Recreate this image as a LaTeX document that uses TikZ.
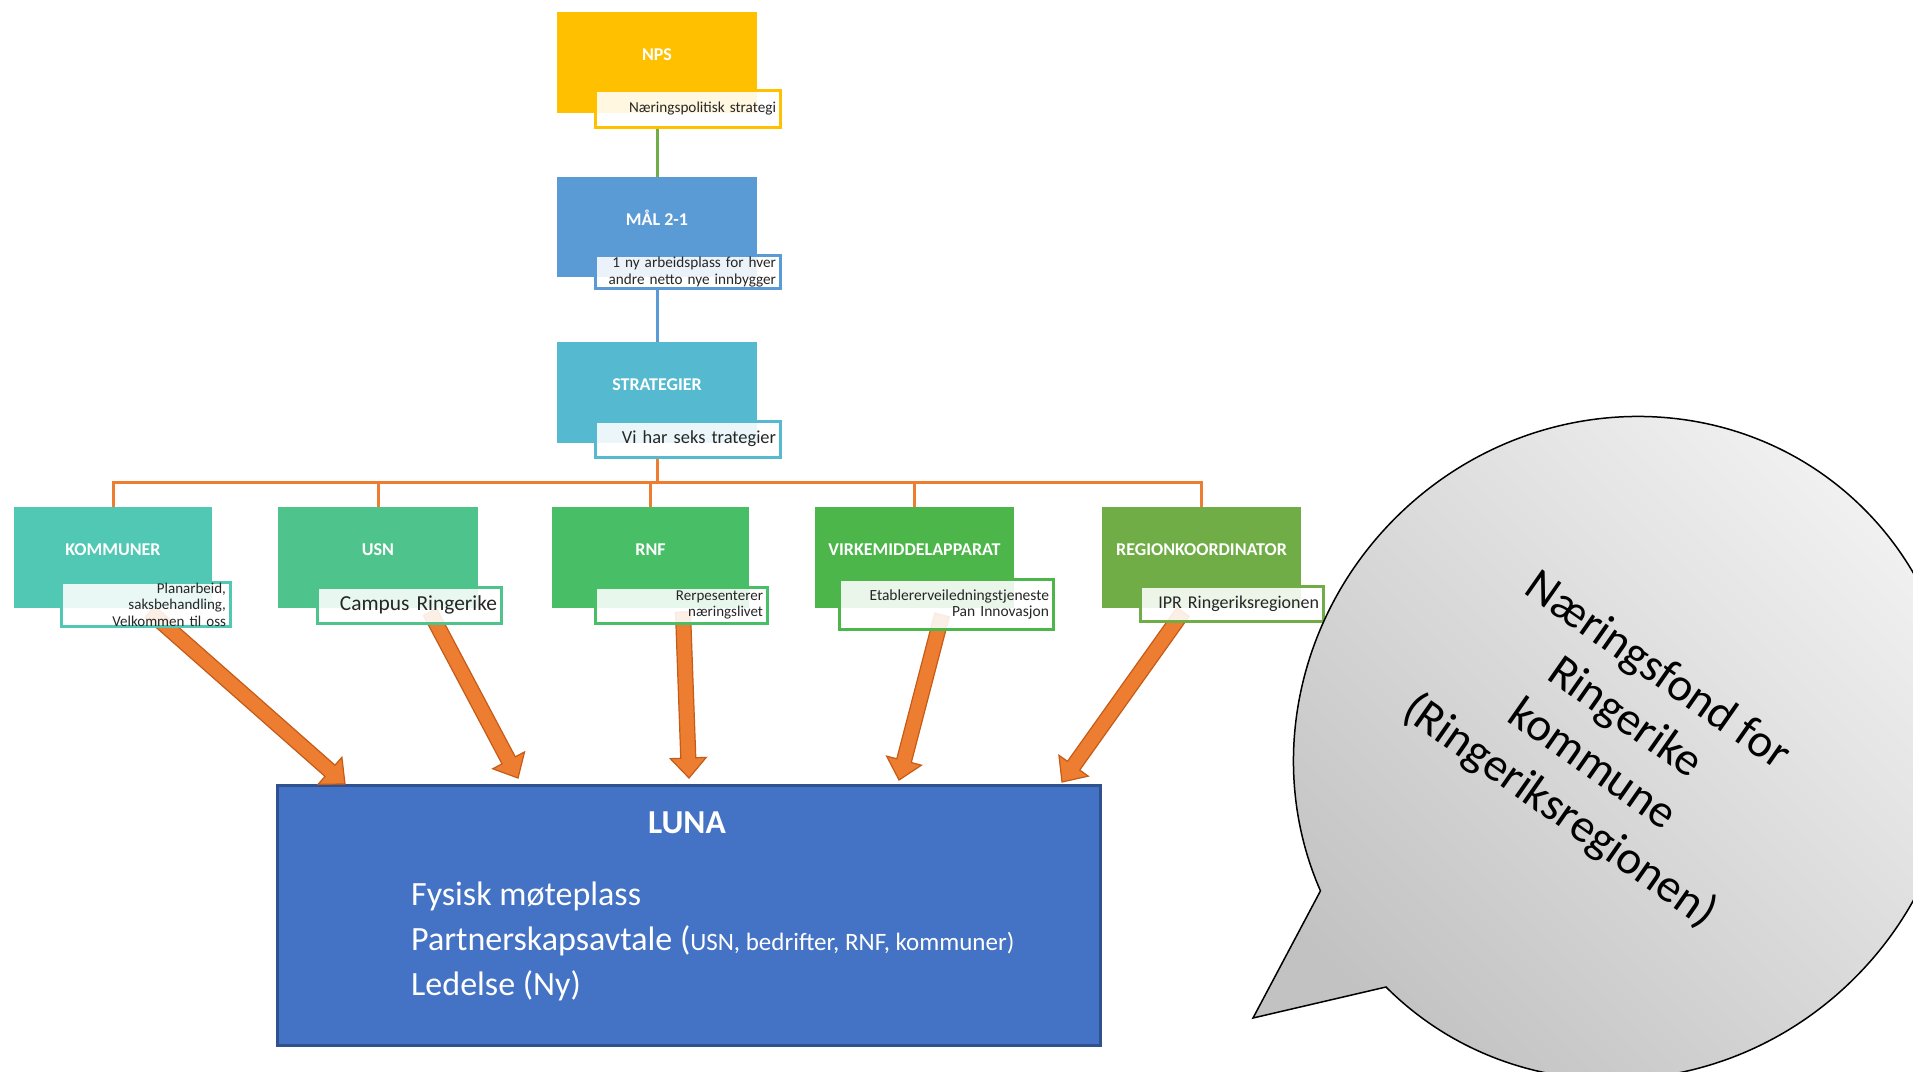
\documentclass[tikz,border=0pt]{standalone}
\usepackage{fontspec}
\setmainfont{Carlito}
\usetikzlibrary{calc}
\definecolor{npsgul}{HTML}{FFC000}
\definecolor{malbla}{HTML}{5B9BD5}
\definecolor{strturkis}{HTML}{55BAD0}
\definecolor{komgronn}{HTML}{50C8B4}
\definecolor{usngronn}{HTML}{4EC48C}
\definecolor{rnfgronn}{HTML}{48BF66}
\definecolor{virgronn}{HTML}{4DB64B}
\definecolor{reggronn}{HTML}{70AD47}
\definecolor{pilorange}{HTML}{ED7D31}
\definecolor{pilkant}{HTML}{C65B17}
\definecolor{lunabla}{HTML}{4472C4}
\definecolor{lunakant}{HTML}{2F528F}
\definecolor{tekstgra}{HTML}{262626}
\newcommand\fs[2]{\fontsize{#1}{#2}\selectfont}
% blokkpil fra #1 til #2
\newcommand\blokkpil[2]{%
  \coordinate (hals) at ($(#2)!20pt!(#1)$);
  \filldraw[pil] ($(#1)!7.5pt!90:(#2)$) -- ($(hals)!7.5pt!90:(#2)$)
    -- ($(hals)!18pt!90:(#2)$) -- (#2) -- ($(hals)!18pt!-90:(#2)$)
    -- ($(hals)!7.5pt!-90:(#2)$) -- ($(#1)!7.5pt!-90:(#2)$) -- cycle;
}
\begin{document}
\begin{tikzpicture}[x=1pt, y=-1pt,
    boks/.style={fill=#1, minimum width=200pt, minimum height=101pt, inner sep=0pt,
      text=white, text height=10pt, text depth=14pt, font=\bfseries\fs{18}{20}},
    merk/.style 2 args={draw=#1, line width=3pt, fill=white, fill opacity=0.88,
      text opacity=1, text=tekstgra, align=right, text width=#2pt,
      inner xsep=4pt, inner ysep=0pt},
    linje/.style={line width=3pt},
    pil/.style={fill=pilorange, draw=pilkant, line width=1.2pt, line join=miter},
    boble/.style={draw=black, line width=1.5pt, shading=axis, top color=black!5,
      bottom color=black!24, shading angle=-45}]
    \useasboundingbox (0,0) rectangle (1913,1071);
    % Bokser
    \node[boks=npsgul] (nps) at (657,62.5) {NPS};
    \node[boks=malbla, minimum height=100pt] (mal) at (657,227) {MÅL 2-1};
    \node[boks=strturkis] (str) at (657,392.5) {STRATEGIER};
    \node[boks=komgronn, minimum width=198pt] (kom) at (113,557.5) {KOMMUNER};
    \node[boks=usngronn] (usn) at (378,557.5) {USN};
    \node[boks=rnfgronn, minimum width=197pt] (rnf) at (650.5,557.5) {RNF};
    \node[boks=virgronn, minimum width=199pt] (vir) at (914.5,557.5) {VIRKEMIDDELAPPARAT};
    \node[boks=reggronn, minimum width=199pt] (reg) at (1201.5,557.5) {REGIONKOORDINATOR};
    % LUNA
    \node[draw=lunakant, line width=3pt, fill=lunabla, minimum width=823pt,
      minimum height=260pt] (luna) at (688.5,915) {};
    \node[text=white, font=\bfseries\fs{33.5}{36}] (luna-t) at (687,823) {LUNA};
    \node[text=white, font=\fs{34}{45}, align=left, anchor=west, inner sep=0pt]
      (luna-l) at (411,941.5) {Fysisk møteplass\\
      Partnerskapsavtale ({\fs{25}{45}USN, bedrifter, RNF, kommuner)}\\
      Ledelse (Ny)};
    % Piler
    \coordinate (kom-s) at (150,612);
    \coordinate (usn-s) at (430,612);
    \coordinate (rnf-s) at (683,612);
    \coordinate (vir-s) at (942,615);
    \coordinate (reg-s) at (1183,612);
    \coordinate (kom-e) at (345,784);
    \coordinate (usn-e) at (518,778);
    \coordinate (rnf-e) at (689,778);
    \coordinate (vir-e) at (899,780);
    \coordinate (reg-e) at (1062,782);
    \foreach \fra/\til in {kom-s/kom-e, usn-s/usn-e, rnf-s/rnf-e, vir-s/vir-e, reg-s/reg-e}
      {\blokkpil{\fra}{\til}}
    % Merkelapper
    \node[merk={npsgul}{177}, minimum height=37pt, font=\fs{15.2}{16}] (nps-l)
      at (687.5,108.5) {Næringspolitisk strategi};
    \node[merk={malbla}{177}, minimum height=33pt, font=\fs{15.2}{17}] (mal-l)
      at (687.5,271.5) {\strut 1 ny arbeidsplass for hver\\andre netto nye innbygger};
    \node[merk={strturkis}{177}, minimum height=36pt, font=\fs{18.4}{20}] (str-l)
      at (687.5,439) {Vi har seks trategier};
    \node[merk={komgronn}{161}, minimum height=37pt, font=\fs{15}{16.5}] (kom-l)
      at (145.5,604.5) {Planarbeid,\\saksbehandling,\\Velkommen til oss};
    \node[merk={usngronn}{176}, minimum height=36pt, font=\fs{21.4}{23}] (usn-l)
      at (409,605) {Campus Ringerike};
    \node[merk={rnfgronn}{164}, minimum height=36pt, font=\fs{15}{16}] (rnf-l)
      at (681,605) {Rerpesenterer\\næringslivet};
    \node[merk={virgronn}{206}, minimum height=50pt, font=\fs{15.5}{16}] (vir-l)
      at (946,604) {Etablererveiledningstjeneste\\Pan Innovasjon};
    \node[merk={reggronn}{175}, minimum height=35pt, font=\fs{18}{20}] (reg-l)
      at (1231.5,603.5) {IPR Ringeriksregionen};
    % Linjer
    \draw[linje, draw=reggronn] (nps |- nps-l.south) -- (mal.north);
    \draw[linje, draw=malbla] (mal |- mal-l.south) -- (str.north);
    \coordinate (buss) at (657,482);
    \draw[linje, draw=pilorange] (str |- str-l.south) -- (buss);
    \foreach \b in {kom,usn,rnf,vir,reg}
      \draw[linje, draw=pilorange] (\b.north) |- (buss);
    % Snakkeboble
    \coordinate (boble-m) at (1625,748);
    \coordinate (boble-tupp) at (1253,1018);
    \begin{scope}[shift={(boble-m)}, rotate=45]
      \draw[boble] (180:338 and 325)
        arc[start angle=180, end angle=-159.4, x radius=338, y radius=325]
        -- (boble-tupp) -- cycle;
    \end{scope}
    \node[rotate=-35, align=center, font=\fs{47}{57}, text=black] (boble-t)
      at (1608,742) {Næringsfond for\\Ringerike\\kommune\\(Ringeriksregionen)};
\end{tikzpicture}
\end{document}
